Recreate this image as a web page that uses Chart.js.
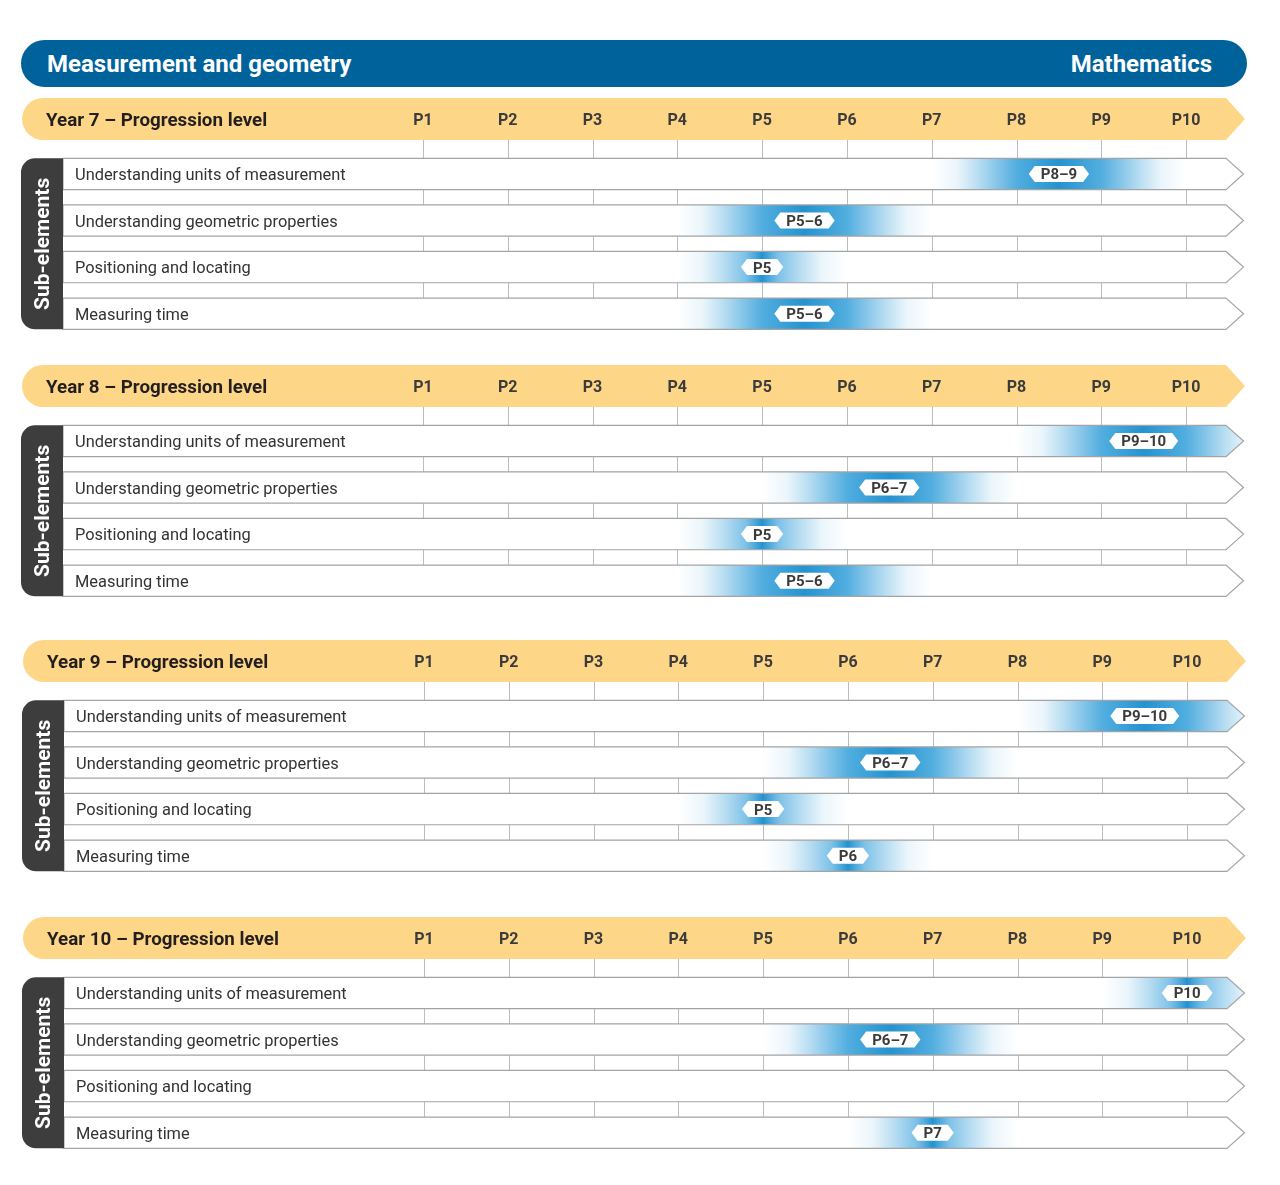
<!DOCTYPE html>
<html lang="en">
<head>
<meta charset="UTF-8">
<title>Measurement and geometry - progression levels</title>
<script src="https://cdn.jsdelivr.net/npm/chart.js@4"></script>
<style>
    * { margin: 0; padding: 0; box-sizing: border-box; }
    body {
        width: 1280px;
        height: 1185px;
        background: #fff;
        font-family: Roboto, 'Noto Sans', sans-serif;
        position: relative;
        overflow: hidden;
    }
    .banner {
        position: absolute;
        left: 21px; top: 40px;
        width: 1226px; height: 47px;
        border-radius: 24px;
        background: #00629b;
        color: #fff;
        font-weight: 700;
        font-size: 24px;
        display: flex;
        align-items: center;
        justify-content: space-between;
        padding: 0 35px 0 26px;
    }
    .year { position: absolute; }
</style>
</head>
<body>
<div class="banner"><span>Measurement and geometry</span><span>Mathematics</span></div>
<canvas id="year7" class="year" width="1280" height="250"></canvas>
<canvas id="year8" class="year" width="1280" height="250"></canvas>
<canvas id="year9" class="year" width="1280" height="250"></canvas>
<canvas id="year10" class="year" width="1280" height="250"></canvas>

<script>
// levels and sub-elements
const levelLabels = ['P1', 'P2', 'P3', 'P4', 'P5', 'P6', 'P7', 'P8', 'P9', 'P10'];
const subElements = [
    'Understanding units of measurement',
    'Understanding geometric properties',
    'Positioning and locating',
    'Measuring time'
];
const yearNames = ['Year 7', 'Year 8', 'Year 9', 'Year 10'];

// expected level range per sub-element (from / to), null = not shown
const year7From = [8, 5, 5, 5];
const year7To = [9, 6, 5, 6];
const year8From = [9, 6, 5, 5];
const year8To = [10, 7, 5, 6];
const year9From = [9, 6, 5, 6];
const year9To = [10, 7, 5, 6];
const year10From = [10, 6, null, 7];
const year10To = [10, 7, null, 7];

// page layout (band centre on page, small horizontal nudge)
const sections = [
    { id: 'year7', name: yearNames[0], from: year7From, to: year7To, band: 118.8, dx: 0 },
    { id: 'year8', name: yearNames[1], from: year8From, to: year8To, band: 386, dx: 0 },
    { id: 'year9', name: yearNames[2], from: year9From, to: year9To, band: 661, dx: 1.3 },
    { id: 'year10', name: yearNames[3], from: year10From, to: year10To, band: 938, dx: 1.3 }
];

const BAND_Y = 30;        // band centre inside each canvas
const BAND_HALF = 21;
const BAND_TIP = 19;
const ROW_HALF = 15.65;
const ROW_TIP = 17.5;
const SPREAD = 1;         // glow reaches one level either side
const BLUE = '84,174,224';

function glow(chart, lo, hi) {
    const x = chart.scales.x;
    const a = lo - SPREAD, b = hi + SPREAD;
    const g = chart.ctx.createLinearGradient(x.getPixelForValue(a), 0, x.getPixelForValue(b), 0);
    const add = (v, c) => g.addColorStop(Math.min(1, Math.max(0, (v - a) / (b - a))), c);
    add(a, `rgba(${BLUE},0)`);
    add(lo - 0.7, `rgba(${BLUE},0.12)`);
    add(lo - 0.45, `rgba(${BLUE},0.42)`);
    add(lo - 0.2, `rgba(${BLUE},0.75)`);
    if (hi > lo) {
        add(lo, '#52aedf');
        add((lo + hi) / 2, '#2593d0');
        add(hi, '#52aedf');
    } else {
        add(lo, '#2392d0');
    }
    add(hi + 0.2, `rgba(${BLUE},0.75)`);
    add(hi + 0.45, `rgba(${BLUE},0.42)`);
    add(hi + 0.7, `rgba(${BLUE},0.12)`);
    add(b, `rgba(${BLUE},0)`);
    return g;
}

function rowPath(ctx, area, yc) {
    ctx.moveTo(area.left, yc - ROW_HALF);
    ctx.lineTo(area.right, yc - ROW_HALF);
    ctx.lineTo(area.right + ROW_TIP, yc);
    ctx.lineTo(area.right, yc + ROW_HALF);
    ctx.lineTo(area.left, yc + ROW_HALF);
    ctx.closePath();
}

const framePlugin = {
    id: 'frame',
    beforeDatasetsDraw(chart) {
        const { ctx, chartArea: area, scales: { x, y } } = chart;
        const sec = chart.config.options.section;
        const rowYs = subElements.map((_, i) => y.getPixelForValue(i));

        // yellow level band
        const top = BAND_Y - BAND_HALF, bot = BAND_Y + BAND_HALF, x0 = 22;
        ctx.save();
        ctx.fillStyle = '#fed688';
        ctx.beginPath();
        ctx.moveTo(x0 + BAND_HALF, top);
        ctx.lineTo(area.right, top);
        ctx.lineTo(area.right + BAND_TIP, BAND_Y);
        ctx.lineTo(area.right, bot);
        ctx.lineTo(x0 + BAND_HALF, bot);
        ctx.arc(x0 + BAND_HALF, BAND_Y, BAND_HALF, Math.PI / 2, Math.PI * 1.5);
        ctx.closePath();
        ctx.fill();

        ctx.fillStyle = '#231f20';
        ctx.font = 'bold 18.8px Roboto';
        ctx.textAlign = 'left';
        ctx.textBaseline = 'alphabetic';
        ctx.fillText(sec.name + ' \u2013 Progression level', 46, BAND_Y + 6.8);

        ctx.fillStyle = '#3b3b3b';
        ctx.font = 'bold 16px Roboto';
        ctx.textAlign = 'center';
        levelLabels.forEach((lab, i) => ctx.fillText(lab, x.getPixelForValue(i + 1), BAND_Y + 6));

        // level tick lines
        ctx.strokeStyle = '#bcbcbc';
        ctx.lineWidth = 1;
        ctx.beginPath();
        levelLabels.forEach((_, i) => {
            const px = Math.round(x.getPixelForValue(i + 1)) + 0.5;
            ctx.moveTo(px, bot);
            ctx.lineTo(px, rowYs[rowYs.length - 1]);
        });
        ctx.stroke();

        // white rows
        ctx.fillStyle = '#fff';
        ctx.beginPath();
        rowYs.forEach(yc => rowPath(ctx, area, yc));
        ctx.fill();
        ctx.restore();

        // clip the glows to the arrow rows
        ctx.save();
        ctx.beginPath();
        rowYs.forEach(yc => rowPath(ctx, area, yc));
        ctx.clip();
    },
    afterDatasetsDraw(chart) {
        const { ctx, chartArea: area, scales: { x, y } } = chart;
        const sec = chart.config.options.section;
        ctx.restore();
        const rowYs = subElements.map((_, i) => y.getPixelForValue(i));

        ctx.save();
        ctx.strokeStyle = '#a4a4a4';
        ctx.lineWidth = 1.2;
        rowYs.forEach(yc => {
            ctx.beginPath();
            rowPath(ctx, area, yc);
            ctx.stroke();
        });

        // row names
        ctx.fillStyle = '#333';
        ctx.font = '16.4px Roboto';
        ctx.textAlign = 'left';
        ctx.textBaseline = 'alphabetic';
        subElements.forEach((name, i) => ctx.fillText(name, 75, rowYs[i] + 6));

        // level badges
        ctx.font = 'bold 15px Roboto';
        ctx.textAlign = 'center';
        sec.from.forEach((lo, i) => {
            const hi = sec.to[i];
            if (lo == null) return;
            const txt = lo === hi ? 'P' + lo : 'P' + lo + '\u2013' + hi;
            const cx = x.getPixelForValue((lo + hi) / 2), cy = rowYs[i];
            const hw = ctx.measureText(txt).width / 2 + 12, hh = 8, pt = 6;
            ctx.fillStyle = '#fff';
            ctx.beginPath();
            ctx.moveTo(cx - hw, cy);
            ctx.lineTo(cx - hw + pt, cy - hh);
            ctx.lineTo(cx + hw - pt, cy - hh);
            ctx.lineTo(cx + hw, cy);
            ctx.lineTo(cx + hw - pt, cy + hh);
            ctx.lineTo(cx - hw + pt, cy + hh);
            ctx.closePath();
            ctx.fill();
            ctx.fillStyle = '#3a3a3a';
            ctx.fillText(txt, cx, cy + 5.4);
        });

        // dark side label
        const t = rowYs[0] - ROW_HALF, b = rowYs[rowYs.length - 1] + ROW_HALF;
        ctx.fillStyle = '#3d3d3e';
        ctx.beginPath();
        ctx.roundRect(21, t, area.left - 21, b - t, [14, 0, 0, 14]);
        ctx.fill();
        ctx.translate(43, (t + b) / 2);
        ctx.rotate(-Math.PI / 2);
        ctx.fillStyle = '#fff';
        ctx.font = 'bold 21px Roboto';
        ctx.textBaseline = 'middle';
        ctx.fillText('Sub-elements', 0, 1);
        ctx.restore();
    }
};

// row pitch 46.56 px, first row centre 55 px below the band centre
const PITCH = 46.56;
const padTop = BAND_Y + 55 - PITCH / 2;

sections.forEach(sec => {
    const canvas = document.getElementById(sec.id);
    canvas.style.top = (sec.band - BAND_Y) + 'px';
    canvas.style.left = sec.dx + 'px';
    new Chart(canvas, {
        type: 'bar',
        data: {
            labels: subElements,
            datasets: [{
                data: sec.from.map((lo, i) => lo == null ? null : [lo - SPREAD, sec.to[i] + SPREAD]),
                backgroundColor: ctx => {
                    const chart = ctx.chart;
                    if (!chart.chartArea) return 'transparent';
                    const lo = sec.from[ctx.dataIndex];
                    if (lo == null) return 'transparent';
                    return glow(chart, lo, sec.to[ctx.dataIndex]);
                },
                borderWidth: 0,
                borderSkipped: false,
                categoryPercentage: 1,
                barPercentage: (ROW_HALF * 2) / PITCH,
                clip: false
            }]
        },
        options: {
            section: sec,
            indexAxis: 'y',
            responsive: false,
            animation: false,
            layout: {
                padding: { left: 63, right: 54, top: padTop, bottom: 250 - padTop - PITCH * 4 }
            },
            scales: {
                // P1 at 422.9 px, P10 at 1186.1 px, body spans 63..1226
                x: { type: 'linear', min: 1 - (422.9 - 63) / 84.8, max: 10 + (1226 - 1186.1) / 84.8, display: false },
                y: { display: false }
            },
            plugins: {
                legend: { display: false },
                tooltip: { enabled: false }
            }
        },
        plugins: [framePlugin]
    });
});
</script>
</body>
</html>
